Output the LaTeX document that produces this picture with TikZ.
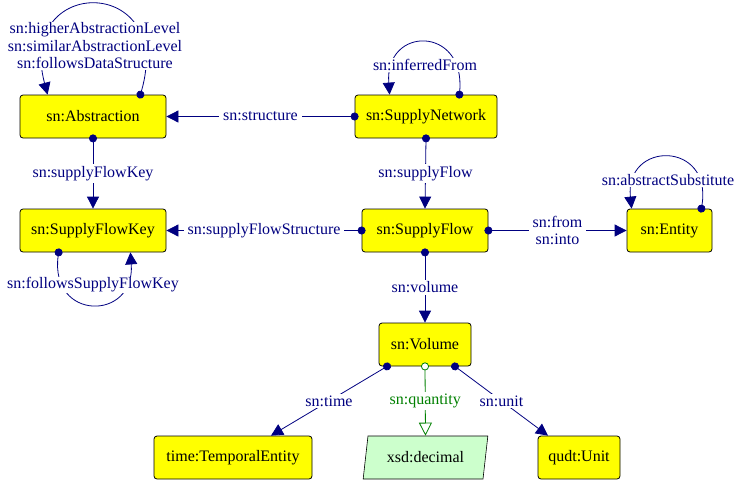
\documentclass[tikz,border=0pt]{standalone}
\usepackage{fontspec}
\setmainfont{Liberation Serif}
\usetikzlibrary{arrows.meta,shapes.geometric}
\definecolor{propblue}{RGB}{0,0,128}
\definecolor{datagreen}{RGB}{0,128,0}
\definecolor{classyellow}{RGB}{255,255,0}
\definecolor{litgreen}{RGB}{204,255,204}
\begin{document}
\begin{tikzpicture}[x=1pt,y=-1pt,
  every node/.style={font=\fontsize{16}{17.5}\selectfont},
  cls/.style={draw=black,line width=0.8pt,fill=classyellow,rounded corners=3pt,
    minimum height=43pt,inner sep=0pt},
  lit/.style={trapezium,trapezium left angle=74,trapezium right angle=106,
    trapezium stretches=true,draw=black,line width=0.6pt,fill=litgreen,
    minimum height=43pt,minimum width=125pt,inner sep=0pt},
  objprop/.style={draw=propblue,line width=0.8pt,shorten <=-4pt,
    {Circle[length=8pt]}-{Triangle[length=12pt,width=12pt]}},
  dataprop/.style={draw=datagreen,line width=0.8pt,shorten <=-4pt,
    {Circle[open,fill=white,length=8pt]}-{Triangle[open,fill=white,length=13pt,width=13pt]}},
  plbl/.style={fill=white,text=propblue,inner xsep=4pt,inner ysep=2pt,align=center},
  dlbl/.style={plbl,text=datagreen}]
  \useasboundingbox (0,0) rectangle (742,485);
  % classes
  \node[cls,minimum width=146pt] (abs) at (93,116.5) {sn:Abstraction};
  \node[cls,minimum width=142pt] (net) at (426,116.5) {sn:SupplyNetwork};
  \node[cls,minimum width=146pt] (key) at (93,230.5) {sn:SupplyFlowKey};
  \node[cls,minimum width=126pt] (flow) at (425,230.5) {sn:SupplyFlow};
  \node[cls,minimum width=85pt] (ent) at (669.5,230.5) {sn:Entity};
  \node[cls,minimum width=92pt] (vol) at (425,344.5) {sn:Volume};
  \node[cls,minimum width=158pt] (temp) at (233,457.5) {time:TemporalEntity};
  \node[lit] (dec) at (425.5,457.5) {xsd:decimal};
  \node[cls,minimum width=82pt] (unit) at (579,457.5) {qudt:Unit};
  % object properties
  \draw[objprop] (net.west) -- (abs.east) node[plbl,midway] {sn:structure};
  \draw[objprop] (net.south) -- (flow.north) node[plbl,midway] {sn:supplyFlow};
  \draw[objprop] (abs.south) -- (key.north) node[plbl,midway] {sn:supplyFlowKey};
  \draw[objprop] (flow.west) -- (key.east) node[plbl,midway] {sn:supplyFlowStructure};
  \draw[objprop] (flow.east) -- (ent.west) node[plbl,midway] {sn:from\\sn:into};
  \draw[objprop] (flow.south) -- (vol.north) node[plbl,midway] {sn:volume};
  \draw[objprop] ([xshift=-38pt]vol.south) -- ([xshift=38pt]temp.north) node[plbl,midway] {sn:time};
  \draw[objprop] ([xshift=30pt]vol.south) -- ([xshift=-31pt]unit.north) node[plbl,midway] {sn:unit};
  % datatype property
  \draw[dataprop] (vol.south) -- (dec.north) node[dlbl,midway] {sn:quantity};
  % self loops
  \draw[objprop] ([xshift=-26pt]abs.north east) .. controls +(35,-120) and +(-32,-120) .. ([xshift=28pt]abs.north west);
  \draw[objprop] ([xshift=-38pt]net.north east) .. controls +(6,-69) and +(-5,-69) .. ([xshift=35pt]net.north west);
  \draw[objprop] ([xshift=-11pt]ent.north east) .. controls +(11,-68) and +(-7,-68) .. ([xshift=5pt]ent.north west);
  \draw[objprop] ([xshift=39pt]key.south west) .. controls +(-9,69) and +(5,69) .. ([xshift=-36pt]key.south east);
  \node[plbl,inner ysep=1pt] (absloop) at (95,46) {sn:higherAbstractionLevel\\sn:similarAbstractionLevel\\sn:followsDataStructure};
  \node[plbl,inner ysep=1pt] (netloop) at (425,65) {sn:inferredFrom};
  \node[plbl,inner ysep=1pt] (entloop) at (668,180) {sn:abstractSubstitute};
  \node[plbl,inner ysep=1pt] (keyloop) at (93,285) {sn:followsSupplyFlowKey};
\end{tikzpicture}
\end{document}
